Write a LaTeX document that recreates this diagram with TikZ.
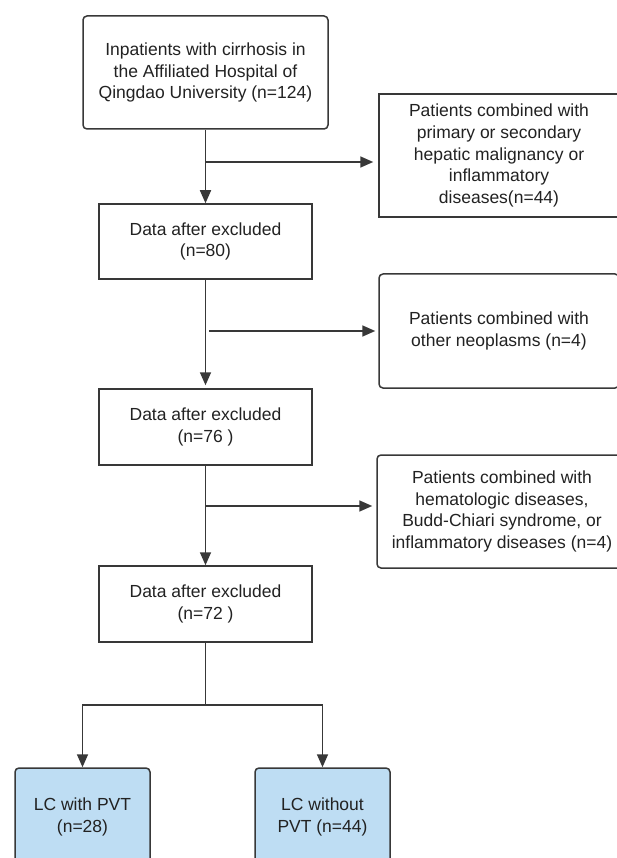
\documentclass[tikz,border=0pt]{standalone}
\usepackage{fontspec}
\setmainfont{Liberation Sans}
\usetikzlibrary{arrows.meta}
\definecolor{linec}{HTML}{383838}
\definecolor{textc}{HTML}{222222}
\definecolor{boxblue}{RGB}{190,221,243}
\begin{document}
\begin{tikzpicture}[x=1pt,y=-1pt,
  box/.style={draw=linec, line width=1.5pt, text=textc, align=center, inner sep=0pt,
    font=\fontsize{17.5}{21.7}\selectfont},
  sq/.style={box},
  rnd/.style={box, rounded corners=4pt},
  blue/.style={rnd, fill=boxblue},
  arr/.style={draw=linec, line width=1.7pt, -{Triangle[length=13pt,width=11pt]}},
  ln/.style={draw=linec, line width=1.7pt}]
\useasboundingbox (0,0) rectangle (617,858);
\clip (0,0) rectangle (617,858);
\fill[white] (0,0) rectangle (617,858);
\node[rnd, minimum width=245pt, minimum height=113pt] (a) at (205.5,72.5)
  {Inpatients with cirrhosis in\\the Affiliated Hospital of\\Qingdao University (n=124)};
\node[sq, minimum width=240pt, minimum height=123pt] (r1) at (499,155.5)
  {Patients combined with\\primary or secondary\\hepatic malignancy or\\inflammatory\\diseases(n=44)};
\node[sq, minimum width=213pt, minimum height=75pt] (b) at (205.5,241.5)
  {Data after excluded\\(n=80)};
\node[rnd, minimum width=240pt, minimum height=114pt] (r2) at (499,331)
  {Patients combined with\\other neoplasms (n=4)};
\node[sq, minimum width=213pt, minimum height=76pt] (c) at (205.5,427)
  {Data after excluded\\(n=76 )};
\node[rnd, minimum width=250pt, minimum height=113pt] (r3) at (502,511.5)
  {Patients combined with\\hematologic diseases,\\Budd-Chiari syndrome, or\\inflammatory diseases (n=4)};
\node[sq, minimum width=213pt, minimum height=76pt] (d) at (205.5,604)
  {Data after excluded\\(n=72 )};
\node[blue, minimum width=135pt, minimum height=98pt] (e) at (82.5,817)
  {LC with PVT\\(n=28)};
\node[blue, minimum width=135pt, minimum height=98pt] (f) at (322.5,817)
  {LC without\\PVT (n=44)};
\coordinate (j1) at (205.5,162);
\coordinate (j2) at (209,331);
\coordinate (j3) at (205.5,506);
\coordinate (j4) at (205.5,705);
\draw[arr] (a) -- (b);
\draw[arr, shorten >=5pt] (j1) -- (r1.west |- j1);
\draw[arr, shorten >=3pt] (b) -- (c);
\draw[arr, shorten >=3pt] (j2) -- (r2.west |- j2);
\draw[arr] (c) -- (d);
\draw[arr, shorten >=4pt] (j3) -- (r3.west |- j3);
\draw[ln] (d) -- (j4);
\draw[arr] (j4) -| (e.north);
\draw[arr] (j4) -| (f.north);
\end{tikzpicture}
\end{document}
